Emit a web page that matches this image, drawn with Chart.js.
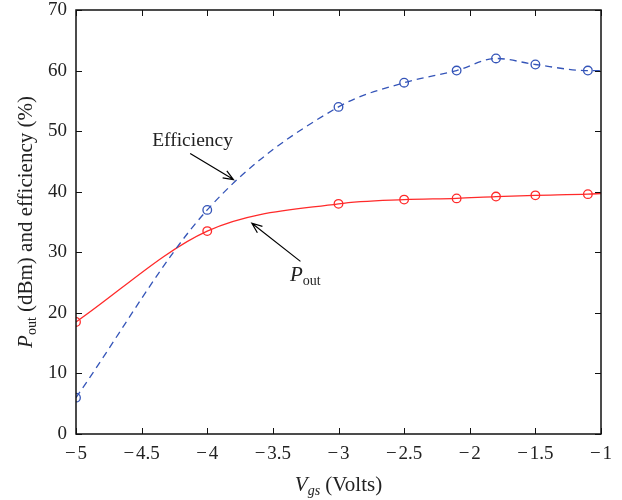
<!DOCTYPE html>
<html>
<head>
<meta charset="utf-8">
<script src="https://cdn.jsdelivr.net/npm/chart.js@4/dist/chart.umd.min.js"></script>
<style>
  html, body { margin: 0; background: #fff; }
  #wrap { width: 622px; height: 500px; }
</style>
</head>
<body>
<div id="wrap"><canvas id="chart"></canvas></div>
<script>
// measured points
const vgs = [-5, -4, -3, -2.5, -2.1, -1.8, -1.5, -1.1];
const efficiency = [6, 37, 54, 58, 60, 62, 61, 60];
const pout = [18.5, 33.5, 38, 38.7, 38.9, 39.2, 39.4, 39.6];
// the fitted curves run on to the right edge, no marker there
const curveEndX = -1;
const effEnd = 60;
const poutEnd = 39.7;
// ticks
const xTicks = [-5, -4.5, -4, -3.5, -3, -2.5, -2, -1.5, -1];
const yTicks = [0, 10, 20, 30, 40, 50, 60, 70];

const SERIF = "'Liberation Serif', 'DejaVu Serif', serif";
const INK = "#222";
const RED = "#ff2a2a";
const BLUE = "#3454b8";

function curve(vals, endY) {
  return vgs.map((x, i) => ({ x, y: vals[i] })).concat([{ x: curveEndX, y: endY }]);
}
const markerRadius = (ctx) => ctx.dataIndex < vgs.length ? 4.3 : 0;
const minus = (v) => String(v).replace("-", "\u2212\u200a");

// frame, inward ticks, titles and the two arrow labels
const decor = {
  id: "decor",
  afterDraw(chart) {
    const { ctx, chartArea: a, scales: { x, y } } = chart;
    ctx.save();
    ctx.strokeStyle = "#111";
    ctx.lineWidth = 1;
    ctx.beginPath();
    xTicks.forEach(v => {
      const px = Math.round(x.getPixelForValue(v)) + 0.5;
      ctx.moveTo(px, a.bottom); ctx.lineTo(px, a.bottom - 6);
      ctx.moveTo(px, a.top); ctx.lineTo(px, a.top + 6);
    });
    yTicks.forEach(v => {
      const py = Math.round(y.getPixelForValue(v)) + 0.5;
      ctx.moveTo(a.left, py); ctx.lineTo(a.left + 6, py);
      ctx.moveTo(a.right, py); ctx.lineTo(a.right - 6, py);
    });
    ctx.stroke();
    ctx.lineWidth = 1.5;
    ctx.strokeRect(a.left, a.top, a.right - a.left, a.bottom - a.top);

    // run of text pieces: [text, font, baseline shift]
    function runs(parts, cx, cy, rot) {
      ctx.save();
      ctx.translate(cx, cy);
      ctx.rotate(rot);
      let w = 0;
      parts.forEach(p => { ctx.font = p[1]; w += ctx.measureText(p[0]).width; });
      let px = -w / 2;
      ctx.fillStyle = INK;
      ctx.textBaseline = "alphabetic";
      ctx.textAlign = "left";
      parts.forEach(p => {
        ctx.font = p[1];
        ctx.fillText(p[0], px, p[2]);
        px += ctx.measureText(p[0]).width;
      });
      ctx.restore();
    }
    const big = "21px " + SERIF, bigI = "italic 21px " + SERIF;
    const sub = "14px " + SERIF, subI = "italic 14px " + SERIF;
    runs([["V", bigI, 0], ["gs", subI, 4], [" (Volts)", big, 0]],
      (a.left + a.right) / 2, 491, 0);
    runs([["P", bigI, 0], ["out", sub, 4], [" (dBm) and efficiency (%)", big, 0]],
      32, (a.top + a.bottom) / 2, -Math.PI / 2);

    function arrow(x0, y0, x1, y1) {
      const X0 = x.getPixelForValue(x0), Y0 = y.getPixelForValue(y0);
      const X1 = x.getPixelForValue(x1), Y1 = y.getPixelForValue(y1);
      const ang = Math.atan2(Y1 - Y0, X1 - X0), L = 11, h = 0.38;
      ctx.strokeStyle = "#000";
      ctx.lineWidth = 1.2;
      ctx.beginPath();
      ctx.moveTo(X0, Y0); ctx.lineTo(X1, Y1);
      ctx.moveTo(X1 - L * Math.cos(ang - h), Y1 - L * Math.sin(ang - h));
      ctx.lineTo(X1, Y1);
      ctx.lineTo(X1 - L * Math.cos(ang + h), Y1 - L * Math.sin(ang + h));
      ctx.stroke();
    }
    arrow(-4.13, 46.3, -3.8, 42.0);
    arrow(-3.29, 28.5, -3.66, 34.8);

    ctx.fillStyle = INK;
    ctx.textAlign = "left";
    ctx.textBaseline = "alphabetic";
    ctx.font = "19.5px " + SERIF;
    ctx.fillText("Efficiency", x.getPixelForValue(-4.42), y.getPixelForValue(47.6));
    const px = x.getPixelForValue(-3.37), py = y.getPixelForValue(25.3);
    ctx.font = bigI;
    ctx.fillText("P", px, py);
    const pw = ctx.measureText("P").width;
    ctx.font = sub;
    ctx.fillText("out", px + pw, py + 4);
    ctx.restore();
  }
};

new Chart(document.getElementById("chart"), {
  type: "line",
  data: {
    datasets: [
      {
        label: "Efficiency",
        data: curve(efficiency, effEnd),
        borderColor: BLUE,
        borderWidth: 1.3,
        borderDash: [7, 5],
        backgroundColor: "transparent",
        pointStyle: "circle",
        pointRadius: markerRadius,
        pointBorderColor: BLUE,
        pointBorderWidth: 1.3,
        pointBackgroundColor: "transparent",
        cubicInterpolationMode: "monotone"
      },
      {
        label: "Pout",
        data: curve(pout, poutEnd),
        borderColor: RED,
        borderWidth: 1.3,
        backgroundColor: "transparent",
        pointStyle: "circle",
        pointRadius: markerRadius,
        pointBorderColor: RED,
        pointBorderWidth: 1.3,
        pointBackgroundColor: "transparent",
        cubicInterpolationMode: "monotone"
      }
    ]
  },
  options: {
    responsive: true,
    maintainAspectRatio: false,
    animation: false,
    layout: { padding: { top: 10, right: 21, left: 0, bottom: 0 } },
    plugins: { legend: { display: false }, tooltip: { enabled: false } },
    scales: {
      x: {
        type: "linear",
        min: -5, max: -1,
        afterBuildTicks: (s) => { s.ticks = xTicks.map(v => ({ value: v })); },
        afterFit: (s) => { s.height = 66; s.paddingLeft = 0; s.paddingRight = 0; },
        grid: { display: false, drawTicks: false },
        border: { display: false },
        ticks: { padding: 9, color: INK, font: { family: SERIF, size: 19 }, callback: minus, maxRotation: 0 }
      },
      y: {
        min: 0, max: 70,
        afterBuildTicks: (s) => { s.ticks = yTicks.map(v => ({ value: v })); },
        afterFit: (s) => { s.width = 76; s.paddingTop = 0; s.paddingBottom = 0; },
        grid: { display: false, drawTicks: false },
        border: { display: false },
        ticks: { padding: 9, color: INK, font: { family: SERIF, size: 19 } }
      }
    }
  },
  plugins: [decor]
});
</script>
</body>
</html>
